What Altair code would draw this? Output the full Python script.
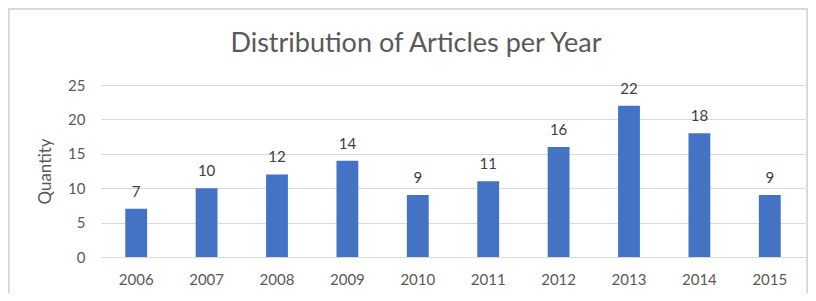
import altair as alt
import pandas as pd

years = ["2006", "2007", "2008", "2009", "2010", "2011", "2012", "2013", "2014", "2015"]
counts = [7, 10, 12, 14, 9, 11, 16, 22, 18, 9]
title_text = "Distribution of Articles per Year"

df = pd.DataFrame({"year": years, "count": counts})

FONT = "Lato"
GREY = "#595959"

base = alt.Chart(df)

first = alt.datum.year == "2006"

frame = base.mark_rect(fill=None, stroke="#d9d9d9", strokeWidth=2).encode(
    x=alt.value(-92), x2=alt.value(706), y=alt.value(-76), y2=alt.value(300)
).transform_filter(first)

title = base.mark_text(fontSize=27, color=GREY, font=FONT, align="center",
                       baseline="alphabetic").encode(
    x=alt.value(315), y=alt.value(-33), text=alt.value(title_text)
).transform_filter(first)

xenc = alt.X("year:N", sort=years, title=None,
             scale=alt.Scale(paddingInner=0.69, paddingOuter=0.345),
             axis=alt.Axis(labelAngle=0, labelPadding=15, ticks=False, domain=False,
                           labelFontSize=15, labelColor=GREY, labelFont=FONT))
yenc = alt.Y("count:Q", title="Quantity",
             scale=alt.Scale(domain=[0, 25]),
             axis=alt.Axis(values=[0, 5, 10, 15, 20, 25], ticks=False, domain=False,
                           labelPadding=16, labelFontSize=15, labelColor=GREY, labelFont=FONT,
                           labelOverlap=False,
                           gridColor="#d9d9d9", gridWidth=1.2,
                           titleFontSize=17, titleColor=GREY, titleFont=FONT,
                           titleFontWeight="normal",
                           titleX=-56, titleY=86, titleAngle=-90, titleAlign="center",
                           titleBaseline="middle"))

bars = base.mark_bar(color="#4472C4").encode(x=xenc, y=yenc)

labels = base.mark_text(baseline="bottom", dy=-9, fontSize=15, color="#404040",
                        font=FONT).encode(
    x=xenc,
    y=yenc,
    text="count:Q",
)

chart = alt.layer(bars, labels, frame, title).properties(
    width=704,
    height=172,
    autosize=alt.AutoSizeParams(type="none"),
    padding={"left": 93, "top": 77, "right": 3, "bottom": 36},
).configure_view(stroke=None)

chart.save("out.html", embed_options={"renderer": "svg", "actions": False})
